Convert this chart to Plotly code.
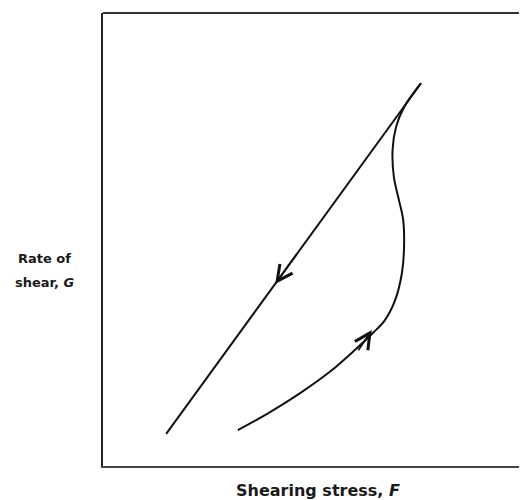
import plotly.graph_objects as go

# Data (abstract units: shearing stress F on x, rate of shear G on y)
down_F = [1.49, 7.50]
down_G = [0.71, 8.45]

up_F = [3.18, 3.94, 4.65, 5.35, 5.94, 6.37, 6.65, 6.89, 7.05, 7.10, 7.08, 6.98, 6.86, 6.83, 6.91, 7.10, 7.50]
up_G = [0.79, 1.19, 1.61, 2.08, 2.56, 2.94, 3.22, 3.66, 4.26, 4.83, 5.43, 5.87, 6.38, 6.98, 7.48, 7.92, 8.45]

# arrow markers: tip and tail points (direction of travel)
arrow_tip_F = [4.06, 6.34]
arrow_tip_G = [4.02, 3.00]
arrow_tail_F = [4.60, 6.00]
arrow_tail_G = [4.72, 2.52]

INK = "#111111"
FONT = "DejaVu Sans, sans-serif"

fig = go.Figure()
fig.add_trace(go.Scatter(x=down_F, y=down_G, mode="lines",
                         line=dict(color=INK, width=2), hoverinfo="skip"))
fig.add_trace(go.Scatter(x=up_F, y=up_G, mode="lines",
                         line=dict(color=INK, width=2, shape="spline", smoothing=1.0),
                         hoverinfo="skip"))

for tx, ty, ax_, ay_ in zip(arrow_tip_F, arrow_tip_G, arrow_tail_F, arrow_tail_G):
    fig.add_annotation(x=tx, y=ty, ax=ax_, ay=ay_, xref="x", yref="y",
                       axref="x", ayref="y", showarrow=True, arrowhead=5,
                       arrowsize=1.8, arrowwidth=1.7, arrowcolor=INK, text="")

fig.add_annotation(text="<b>Rate of</b>", xref="paper", yref="paper",
                   x=-0.137, y=0.459, xanchor="center", yanchor="middle", showarrow=False,
                   font=dict(family=FONT, size=13, color="#1a1a1a"))
fig.add_annotation(text="<b>shear, <i>G</i></b>", xref="paper", yref="paper",
                   x=-0.137, y=0.406, xanchor="center", yanchor="middle", showarrow=False,
                   font=dict(family=FONT, size=13, color="#1a1a1a"))
fig.add_annotation(text="<b>Shearing stress, <i>F</i></b>", xref="paper", yref="paper",
                   x=0.508, y=-0.053, xanchor="center", yanchor="middle", showarrow=False,
                   font=dict(family=FONT, size=16, color="#1a1a1a"))

fig.add_shape(type="line", xref="paper", yref="paper", x0=0, x1=1, y0=1, y1=1,
              line=dict(color="#333", width=2))

fig.update_xaxes(range=[0, 10], showgrid=False, zeroline=False, showticklabels=False,
                 ticks="", showline=True, linecolor="#444", linewidth=2)
fig.update_yaxes(range=[0, 10], showgrid=False, zeroline=False, showticklabels=False,
                 ticks="", showline=True, linecolor="#222", linewidth=2)

fig.update_layout(width=519, height=492, margin=dict(l=95, r=0, t=5, b=34),
                  plot_bgcolor="white", paper_bgcolor="white", showlegend=False)

fig.write_html("out.html")
